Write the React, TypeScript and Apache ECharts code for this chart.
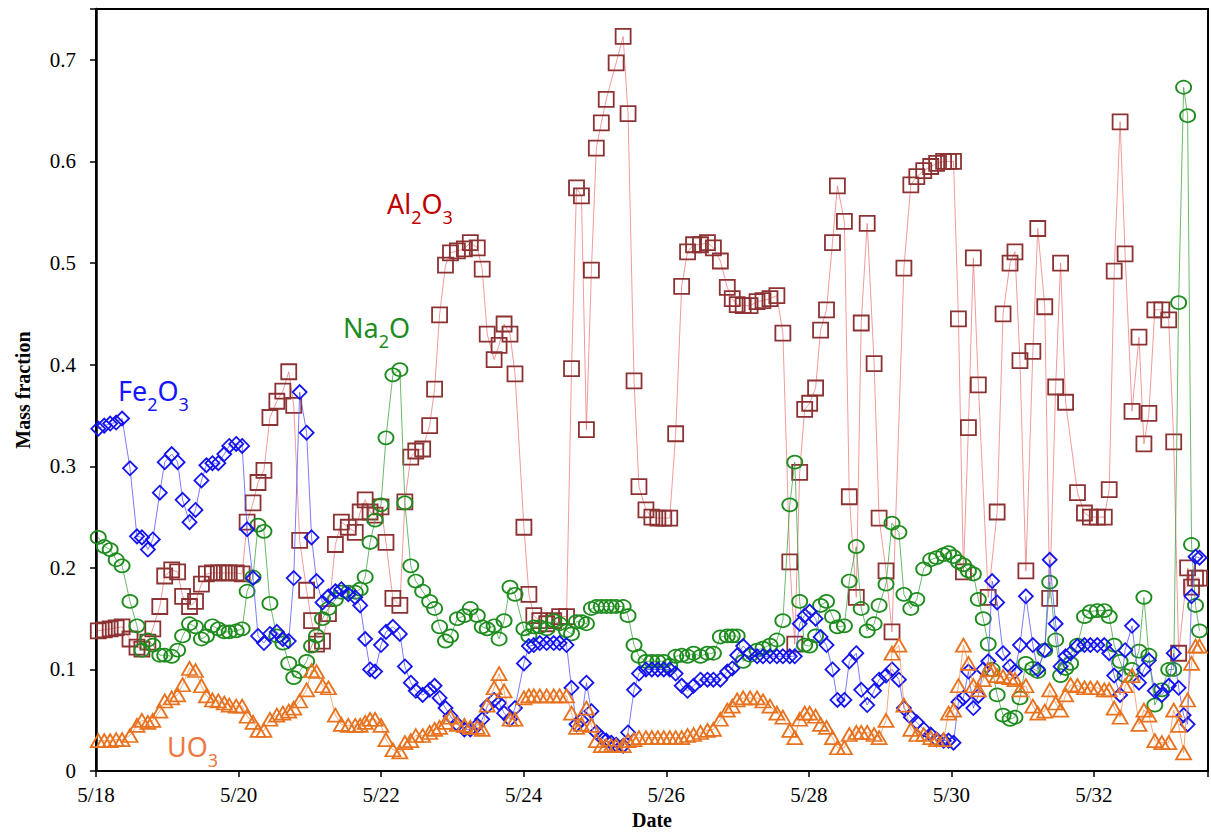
import { useEffect, useRef } from 'react';
import * as echarts from 'echarts';

// sample times, in days after 5/18 00:00
const tDays = [
  0.032,0.116,0.199,0.283,0.366,0.477,0.575,0.644,0.728,0.797,
  0.895,0.964,1.062,1.145,1.215,1.312,1.396,1.479,1.549,1.633,
  1.716,1.800,1.869,1.967,2.050,2.120,2.203,2.273,2.356,2.440,
  2.537,2.621,2.704,2.774,2.857,2.955,3.024,3.094,3.177,3.261,
  3.358,3.442,3.539,3.637,3.706,3.776,3.845,3.915,3.998,4.068,
  4.165,4.263,4.333,4.416,4.486,4.583,4.681,4.750,4.820,4.903,
  4.973,5.070,5.168,5.251,5.349,5.418,5.488,5.585,5.655,5.725,
  5.808,5.878,6.003,6.073,6.142,6.226,6.323,6.421,6.504,6.601,
  6.671,6.741,6.810,6.880,6.950,7.019,7.089,7.158,7.228,7.297,
  7.395,7.464,7.548,7.617,7.715,7.798,7.882,7.965,8.049,8.132,
  8.216,8.299,8.383,8.480,8.578,8.661,8.759,8.856,8.926,8.995,
  9.079,9.176,9.274,9.357,9.455,9.552,9.636,9.733,9.803,9.872,
  9.942,10.012,10.095,10.165,10.248,10.332,10.401,10.499,10.568,10.666,
  10.735,10.819,10.916,10.986,11.083,11.167,11.264,11.334,11.431,11.515,
  11.612,11.710,11.793,11.891,11.960,12.030,12.099,12.169,12.239,12.308,
  12.378,12.447,12.517,12.572,12.642,12.725,12.823,12.892,12.962,13.045,
  13.143,13.212,13.310,13.379,13.463,13.532,13.602,13.672,13.769,13.867,
  13.950,14.047,14.145,14.214,14.284,14.367,14.437,14.534,14.632,14.701,
  14.771,14.854,14.952,15.049,15.119,15.188,15.258,15.314,15.369,15.425,15.481,
];

const fe2o3 = [
  .337,.340,.342,.343,.347,.298,.231,.230,.218,.228,
  .274,.304,.312,.304,.267,.245,.257,.286,.301,.303,
  .303,.312,.320,.322,.320,.238,.190,.133,.126,.135,
  .137,.130,.128,.190,.373,.333,.230,.187,.166,.172,
  .177,.179,.174,.171,.163,.130,.100,.098,.124,.137,
  .142,.135,.103,.087,.079,.075,.080,.084,.072,.062,
  .054,.046,.041,.041,.045,.051,.064,.070,.067,.057,
  .051,.062,.106,.123,.124,.126,.126,.126,.126,.124,
  .082,.046,.050,.087,.059,.038,.033,.030,.028,.026,
  .025,.038,.080,.096,.100,.100,.100,.100,.100,.096,
  .084,.079,.084,.090,.090,.090,.090,.098,.101,.114,
  .123,.116,.113,.113,.113,.113,.113,.113,.113,.145,
  .153,.157,.150,.132,.124,.100,.070,.070,.108,.116,
  .080,.065,.079,.090,.094,.100,.090,.062,.053,.048,
  .041,.036,.031,.030,.030,.028,.068,.072,.098,.062,
  .074,.100,.108,.187,.166,.116,.103,.098,.124,.172,
  .124,.100,.119,.208,.145,.103,.113,.116,.123,.124,
  .124,.124,.124,.116,.094,.075,.119,.143,.087,.100,
  .109,.079,.075,.084,.116,.082,.055,.046,.172,.211,.210,
];

const al2o3 = [
  .138,.139,.140,.141,.142,.130,.122,.120,.127,.140,
  .162,.192,.198,.196,.172,.162,.167,.184,.194,.195,
  .195,.195,.195,.195,.194,.245,.264,.284,.296,.348,
  .364,.374,.393,.360,.227,.178,.148,.125,.128,.155,
  .223,.245,.240,.235,.255,.267,.255,.252,.260,.225,
  .170,.163,.265,.309,.315,.317,.340,.376,.449,.498,
  .510,.512,.514,.520,.515,.494,.430,.405,.419,.440,
  .430,.391,.240,.174,.153,.148,.145,.148,.152,.152,
  .396,.574,.566,.336,.493,.613,.638,.661,null,.697,
  .723,.647,.384,.280,.257,.250,.249,.249,.249,.332,
  .477,.511,.518,.518,.520,.515,.502,.476,.465,.459,
  .458,.458,.462,.463,.465,.468,.431,.206,.125,.294,
  .356,.362,.377,.434,.454,.520,.576,.541,.270,.171,
  .441,.539,.401,.249,.197,.137,null,.495,.577,.585,
  .591,.595,.598,.600,.600,.600,.445,.196,.338,.505,
  .380,null,.171,null,.255,.450,.500,.511,.404,.197,
  .413,.534,.457,.170,.378,.500,.363,null,.274,.254,
  .250,.250,.250,.277,.492,.639,.509,.354,.427,.322,
  .352,.454,.454,.444,.324,.116,null,.200,.181,.190,.190,
];

const na2o = [
  .230,.221,.218,.208,.202,.167,.143,.119,.129,.124,
  .114,.114,.113,.119,.133,.145,.142,.130,.133,.143,
  .140,.137,.137,.138,.140,.177,.191,.242,.236,.165,
  .133,.126,.106,.092,.098,.108,.123,.133,.150,.160,
  .169,.176,.176,.176,.179,.191,.225,.247,.262,.328,
  .390,.395,.264,.202,.187,.177,.167,.160,.142,.128,
  .133,.150,.153,.160,.153,.142,.140,.143,.130,.148,
  .181,.174,.140,.133,.142,.142,.140,.148,.145,.138,
  .135,.147,.147,.145,.160,.162,.162,.162,.162,.162,
  .162,.153,.124,.113,.108,.108,.108,.108,.104,.113,
  .114,.113,.116,.113,.116,.116,.132,.133,.133,.133,
  .108,.114,.119,.121,.124,.129,.148,.262,.304,.167,
  .124,.123,.133,.163,.167,.152,.142,.143,.187,.221,
  .160,.138,.145,.163,.184,.244,.235,.174,.160,.169,
  .199,.208,.210,.213,.215,.211,.206,.203,.197,.194,
  .169,.150,.125,.100,.075,.055,.051,.053,.072,.106,
  .101,.098,.119,.186,.129,.094,.101,.106,.124,.152,
  .157,.158,.158,.152,.124,.108,.094,.100,.118,.171,
  .114,.065,.080,.100,.100,.461,.673,.645,.223,.163,.138,
];

const uo3 = [
  .030,.030,.030,.031,.031,.035,.045,.050,.048,.050,
  .059,.069,.072,.075,.085,.101,.099,.084,.074,.070,
  .069,.067,.065,.064,.064,.054,.048,.040,.040,.051,
  .055,.057,.059,.062,.069,.080,.099,.098,.084,.082,
  .055,.046,.045,.045,.045,.048,.051,.051,.045,.031,
  .021,.019,.028,.030,.035,.035,.038,.041,.043,.048,
  .053,.046,.045,.043,.043,.041,.065,.082,.096,.079,
  .051,.051,.072,.074,.074,.074,.074,.074,.074,.074,
  .057,.043,.046,.062,.045,.030,.025,.025,.025,.025,
  .025,.030,.031,.033,.033,.033,.033,.033,.033,.033,
  .033,.035,.036,.038,.040,.041,.051,.060,.064,.070,
  .072,.072,.072,.069,.064,.057,.053,.040,.033,.051,
  .057,.057,.054,.046,.043,.033,.023,.023,.036,.038,
  .038,.038,.036,.033,.050,.116,.124,.065,.041,.036,
  .036,.033,.031,.031,.057,.060,.084,.124,.106,.084,
  .080,.090,.100,.100,.094,.093,.092,.090,.080,.084,
  .064,.057,.059,.080,.067,.060,.075,.085,.084,.082,
  .082,.082,.080,.080,.062,.053,.084,.094,.046,.060,
  .055,.030,.028,.028,.060,.045,.018,.070,.106,.123,.123,
];

const xTickLabels = ['5/18', '5/20', '5/22', '5/24', '5/26', '5/28', '5/30', '5/32'];
const yTickLabels = ['0', '0.1', '0.2', '0.3', '0.4', '0.5', '0.6', '0.7'];

export default function App() {
  const ref = useRef<HTMLDivElement>(null);

  useEffect(() => {
    if (!ref.current) return;
    const chart = echarts.init(ref.current, undefined, { renderer: 'svg' });

    const pts = (vals: (number | null)[]) =>
      tDays.map((t, i) => [t, vals[i] === null || vals[i] === undefined ? '-' : vals[i]]);

    const mk = (name: string, vals: (number | null)[], symbol: string, size: any, stroke: string, line: string, z: number) => ({
      name,
      type: 'line',
      data: pts(vals),
      symbol,
      symbolSize: size,
      showSymbol: true,
      connectNulls: true,
      z,
      lineStyle: { color: line, width: 1 },
      itemStyle: { color: 'rgba(255,255,255,0)', borderColor: stroke, borderWidth: 1.8 },
      emphasis: { disabled: true },
    });

    const serifFont = '"Liberation Serif", "Times New Roman", serif';
    const labelFont = '"Noto Sans", "Open Sans", sans-serif';

    const formula = (parts: string, color: string, x: number, y: number) => ({
      type: 'text',
      x,
      y,
      z: 100,
      style: {
        text: parts,
        rich: {
          m: { fontSize: 27, fontFamily: labelFont, fill: color, color, lineHeight: 28, verticalAlign: 'top' },
          s: { fontSize: 18, fontFamily: labelFont, fill: color, color, lineHeight: 36, verticalAlign: 'bottom' },
        },
      },
    });

    chart.setOption({
      animation: false,
      backgroundColor: '#ffffff',
      grid: { left: 96, right: -6, top: 9, bottom: 56, show: true, borderColor: '#000', borderWidth: 2, containLabel: false },
      xAxis: {
        type: 'value',
        min: 0,
        max: 15.6,
        interval: 2,
        name: 'Date',
        nameLocation: 'middle',
        nameGap: 38,
        nameTextStyle: { fontFamily: serifFont, fontSize: 20, fontWeight: 'bold', color: '#000' },
        axisLine: { show: true, lineStyle: { color: '#000', width: 2 } },
        axisTick: { show: true, inside: false, length: 6, lineStyle: { color: '#000', width: 1.5 } },
        axisLabel: {
          fontFamily: serifFont,
          fontSize: 21,
          color: '#000',
          margin: 13,
          formatter: (v: number) => {
            const k = Math.round(v);
            if (Math.abs(v - k) > 1e-6 || k % 2 !== 0) return '';
            return xTickLabels[k / 2] ?? '';
          },
        },
        splitLine: { show: false },
      },
      yAxis: {
        type: 'value',
        min: 0,
        max: 0.75,
        interval: 0.1,
        name: 'Mass fraction',
        nameLocation: 'middle',
        nameGap: 63,
        nameTextStyle: { fontFamily: serifFont, fontSize: 20, fontWeight: 'bold', color: '#000' },
        axisLine: { show: true, lineStyle: { color: '#000', width: 2.5 } },
        axisTick: { show: true, inside: false, length: 6, lineStyle: { color: '#000', width: 1.5 } },
        axisLabel: {
          fontFamily: serifFont,
          fontSize: 21,
          color: '#000',
          margin: 20,
          formatter: (v: number) => {
            const k = Math.round(v * 10);
            if (Math.abs(v * 10 - k) > 1e-6) return '';
            return yTickLabels[k] ?? '';
          },
        },
        splitLine: { show: false },
      },
      series: [
        mk('Al2O3', al2o3, 'rect', 15, '#8C3232', 'rgba(235,120,120,0.75)', 2),
        mk('Na2O', na2o, 'circle', [15, 13], '#1E8C1E', 'rgba(60,160,60,0.75)', 3),
        mk('Fe2O3', fe2o3, 'diamond', [14, 14], '#1414F0', 'rgba(80,80,255,0.75)', 4),
        mk('UO3', uo3, 'triangle', [15, 13], '#E8721E', 'rgba(240,150,90,0.8)', 5),
      ],
      graphic: [
        formula('{m|Al}{s|2}{m|O}{s|3}', '#C00000', 387, 190),
        formula('{m|Na}{s|2}{m|O}', '#1E8C1E', 343, 314),
        formula('{m|Fe}{s|2}{m|O}{s|3}', '#1414FF', 118, 377),
        formula('{m|UO}{s|3}', '#F07840', 167, 733),
      ],
    });

    return () => chart.dispose();
  }, []);

  return <div ref={ref} style={{ position: 'absolute', left: 0, top: 0, width: 1211, height: 835 }} />;
}
